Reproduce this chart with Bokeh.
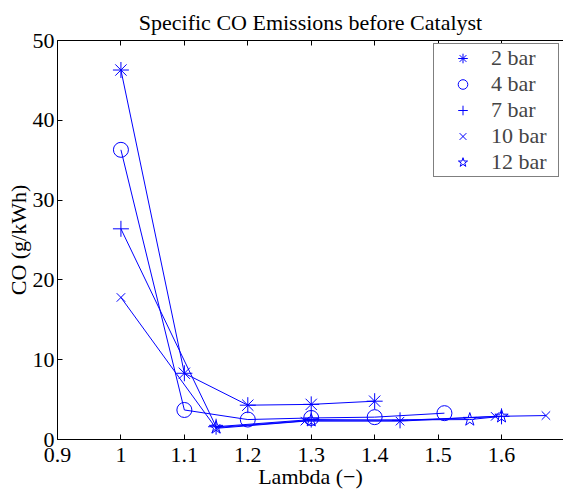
from bokeh.plotting import figure
from bokeh.models import Range1d, LinearAxis, Legend, LegendItem, FixedTicker
from bokeh.embed import file_html
from bokeh.resources import INLINE

# ---- data ----
lam_2 = [1.0, 1.1, 1.2, 1.3, 1.4]
co_2 = [46.3, 8.3, 4.3, 4.4, 4.8]
lam_4 = [1.0, 1.1, 1.2, 1.3, 1.4, 1.51]
co_4 = [36.3, 3.7, 2.5, 2.7, 2.8, 3.3]
lam_7 = [1.0, 1.15, 1.3, 1.44, 1.6]
co_7 = [26.4, 1.6, 2.5, 2.4, 2.9]
lam_10 = [1.0, 1.15, 1.29, 1.44, 1.59, 1.67]
co_10 = [17.8, 1.4, 2.3, 2.3, 2.9, 3.0]
lam_12 = [1.15, 1.3, 1.55, 1.6]
co_12 = [1.5, 2.4, 2.5, 2.9]
series_labels = ["2 bar", "4 bar", "7 bar", "10 bar", "12 bar"]
x_ticks = [0.9, 1.0, 1.1, 1.2, 1.3, 1.4, 1.5, 1.6, 1.7]
y_ticks = [0, 10, 20, 30, 40, 50]
title_text = "Specific CO Emissions before Catalyst"
x_label = "Lambda (\u2212)"
y_label = "CO (g/kWh)"

FONT = "Liberation Serif"
FS = "22px"
BLUE = "#0000ff"

p = figure(width=563, height=491, output_backend="svg", toolbar_location=None,
           x_range=Range1d(0.9, 1.6977), y_range=Range1d(0, 50),
           x_axis_location=None, y_axis_location=None,
           min_border_left=57, min_border_right=0, min_border_top=40, min_border_bottom=51)
p.outline_line_color = None
p.grid.visible = False
p.background_fill_color = "white"

p.title.text = title_text
p.title.text_font = FONT
p.title.text_font_size = FS
p.title.text_font_style = "normal"
p.title.text_color = "black"
p.title.align = "center"
p.title.standoff = 12


def style_axis(ax):
    ax.axis_line_color = "black"
    ax.axis_line_width = 1
    ax.major_tick_in = 5
    ax.major_tick_out = 0
    ax.minor_tick_line_color = None
    ax.major_tick_line_color = "black"
    ax.major_label_text_font = FONT
    ax.major_label_text_font_size = FS
    ax.major_label_text_color = "black"
    ax.axis_label_text_font = FONT
    ax.axis_label_text_font_size = FS
    ax.axis_label_text_font_style = "normal"
    ax.axis_label_text_color = "black"


xb = LinearAxis(ticker=FixedTicker(ticks=x_ticks), axis_label=x_label)
style_axis(xb)
xb.major_label_standoff = 8
xb.axis_label_standoff = -1
p.add_layout(xb, "below")

xt = LinearAxis(ticker=FixedTicker(ticks=x_ticks))
style_axis(xt)
xt.major_label_overrides = {t: "" for t in x_ticks}
xt.major_label_standoff = 0
p.add_layout(xt, "above")

yl = LinearAxis(ticker=FixedTicker(ticks=y_ticks), axis_label=y_label)
style_axis(yl)
yl.major_label_standoff = 3
yl.axis_label_standoff = -1
p.add_layout(yl, "left")

markers = ["asterisk", "circle", "cross", "x", "star"]
sizes = [16, 15, 16, 12, 14]
data = [(lam_2, co_2), (lam_4, co_4), (lam_7, co_7), (lam_10, co_10), (lam_12, co_12)]

items = []
for (xs, ys), m, s, lab in zip(data, markers, sizes, series_labels):
    p.line(xs, ys, line_color=BLUE, line_width=1)
    sc = p.scatter(xs, ys, marker=m, size=s, line_color=BLUE, fill_color=None, line_width=1)
    items.append(LegendItem(label=lab, renderers=[sc]))

legend = Legend(items=items, location=(376, 262), margin=0, padding=1, spacing=0,
                label_height=24, glyph_height=24, glyph_width=55, label_standoff=1,
                label_width=66,
                label_text_font=FONT, label_text_font_size=FS,
                border_line_color="black", border_line_width=1,
                background_fill_color="white", background_fill_alpha=1.0)
p.add_layout(legend, "center")

open("out.html", "w").write(file_html(p, INLINE))
